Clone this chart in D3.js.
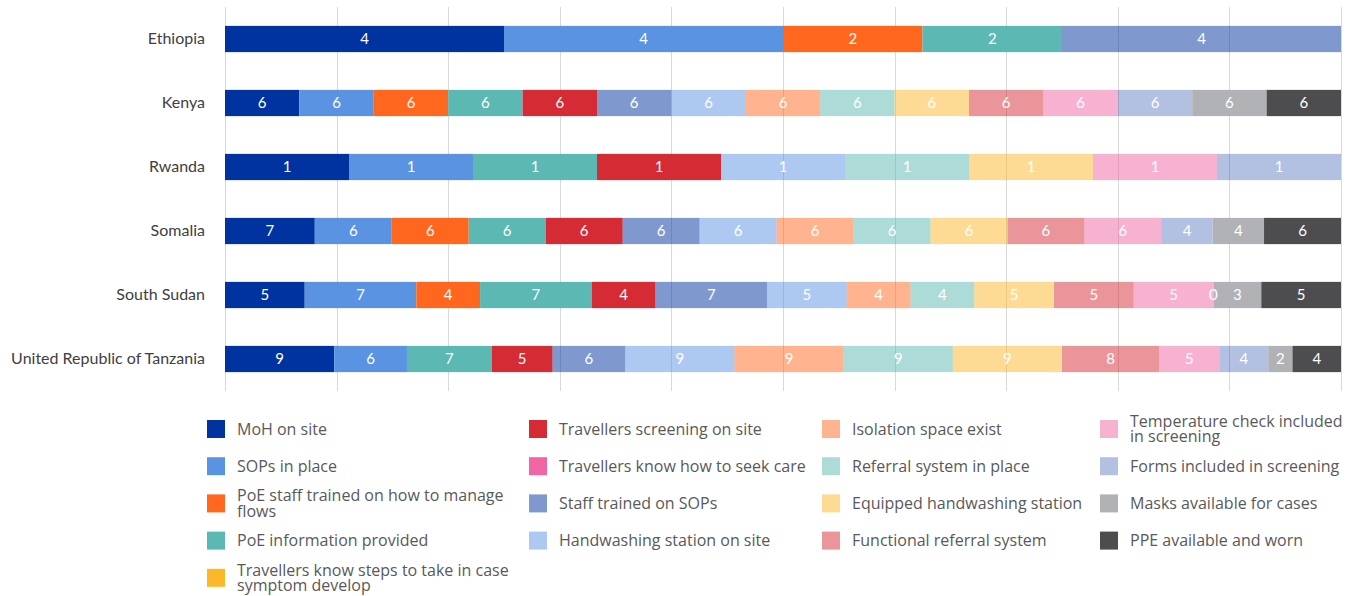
<!DOCTYPE html>
<html>
<head>
<meta charset="utf-8">
<script src="https://cdn.jsdelivr.net/npm/d3@7"></script>
<style>
  html, body { margin: 0; padding: 0; background: #ffffff; }
  svg { display: block; }
</style>
</head>
<body>
<svg id="chart" width="1356" height="596"></svg>
<script>
// Points of entry: measures observed per country (counts of sites)
const countries = ["Ethiopia", "Kenya", "Rwanda", "Somalia", "South Sudan", "United Republic of Tanzania"];

const seriesNames = [
  "MoH on site",
  "SOPs in place",
  "PoE staff trained on how to manage flows",
  "PoE information provided",
  "Travellers know steps to take in case symptom develop",
  "Travellers screening on site",
  "Travellers know how to seek care",
  "Staff trained on SOPs",
  "Handwashing station on site",
  "Isolation space exist",
  "Referral system in place",
  "Equipped handwashing station",
  "Functional referral system",
  "Temperature check included in screening",
  "Forms included in screening",
  "Masks available for cases",
  "PPE available and worn"
];

// one array per measure, values in the order of `countries` (null = not reported)
const mohOnSite            = [4, 6, 1, 7, 5, 9];
const sopsInPlace          = [4, 6, 1, 6, 7, 6];
const staffTrainedFlows    = [2, 6, null, 6, 4, null];
const poeInformation       = [2, 6, 1, 6, 7, 7];
const travellersKnowSteps  = [null, null, null, null, null, null];
const travellersScreening  = [null, 6, 1, 6, 4, 5];
const travellersSeekCare   = [null, null, null, null, null, null];
const staffTrainedSops     = [4, 6, null, 6, 7, 6];
const handwashingStation   = [null, 6, 1, 6, 5, 9];
const isolationSpace       = [null, 6, null, 6, 4, 9];
const referralSystem       = [null, 6, 1, 6, 4, 9];
const equippedHandwashing  = [null, 6, 1, 6, 5, 9];
const functionalReferral   = [null, 6, null, 6, 5, 8];
const temperatureCheck     = [null, 6, 1, 6, 5, 5];
const formsInScreening     = [null, 6, 1, 4, 0, 4];
const masksAvailable       = [null, 6, null, 4, 3, 2];
const ppeAvailable         = [null, 6, null, 6, 5, 4];

const seriesValues = [
  mohOnSite, sopsInPlace, staffTrainedFlows, poeInformation, travellersKnowSteps,
  travellersScreening, travellersSeekCare, staffTrainedSops, handwashingStation,
  isolationSpace, referralSystem, equippedHandwashing, functionalReferral,
  temperatureCheck, formsInScreening, masksAvailable, ppeAvailable
];

const xTicks = [0, 0.1, 0.2, 0.3, 0.4, 0.5, 0.6, 0.7, 0.8, 0.9, 1];

// fill colour and opacity per measure (lighter shades are translucent tints)
const seriesColors = [
  "#0033a0", "#5b93e3", "#ff671f", "#5cb8b2", "#fbb829",
  "#d52b35", "#ef66a3", "#0033a0", "#5b93e3",
  "#ff671f", "#5cb8b2", "#fbb829", "#d52b35",
  "#ef66a3", "#0033a0", "#b0b2b5", "#4d4d4f"
];
const seriesOpacity = [
  1, 1, 1, 1, 1,
  1, 1, 0.5, 0.5,
  0.5, 0.5, 0.5, 0.5,
  0.5, 0.3, 1, 1
];

// ---- layout ----
const plot = { left: 225, right: 1341, top: 7, bottom: 391 };
const svg = d3.select("#chart");

// build the table for the stack
const rows = countries.map((c, i) => {
  const r = { country: c };
  seriesNames.forEach((s, j) => { r[s] = seriesValues[j][i] == null ? 0 : seriesValues[j][i]; });
  return r;
});

const stack = d3.stack().keys(seriesNames).offset(d3.stackOffsetExpand);
const stacked = stack(rows);

const x = d3.scaleLinear().domain([0, 1]).range([plot.left, plot.right]);
const y = d3.scaleBand().domain(countries).range([plot.top, plot.bottom])
  .paddingInner(0.59).paddingOuter(0.295);

// vertical gridlines
svg.append("g").attr("class", "grid")
  .selectAll("line").data(xTicks).join("line")
  .attr("x1", d => Math.round(x(d)) + 0.5).attr("x2", d => Math.round(x(d)) + 0.5)
  .attr("y1", plot.top).attr("y2", plot.bottom)
  .attr("stroke", "#d9d9d9").attr("stroke-width", 1);

// category axis
const yAxis = svg.append("g")
  .attr("transform", `translate(${plot.left - 20},0)`)
  .call(d3.axisLeft(y).tickSize(0).tickPadding(0));
yAxis.select(".domain").remove();
yAxis.selectAll("text")
  .attr("font-family", "Lato, 'Open Sans', sans-serif")
  .attr("font-size", 16)
  .attr("fill", "#404040");

// bars
const layers = svg.append("g").attr("class", "bars")
  .selectAll("g").data(stacked).join("g")
  .attr("fill", (d, i) => seriesColors[i])
  .attr("fill-opacity", (d, i) => seriesOpacity[i]);

layers.selectAll("rect").data(d => d).join("rect")
  .attr("x", d => x(d[0]))
  .attr("width", d => Math.max(0, x(d[1]) - x(d[0])))
  .attr("y", d => y(d.data.country))
  .attr("height", y.bandwidth());

// value labels
const labelG = svg.append("g").attr("class", "labels");
stacked.forEach((layer, j) => {
  layer.forEach((d, i) => {
    const v = seriesValues[j][i];
    if (v == null) return;
    labelG.append("text")
      .attr("x", x((d[0] + d[1]) / 2))
      .attr("y", y(d.data.country) + y.bandwidth() / 2)
      .attr("dy", "0.36em")
      .attr("text-anchor", "middle")
      .attr("font-family", "Lato, 'Open Sans', sans-serif")
      .attr("font-size", 15)
      .attr("fill", "#ffffff")
      .text(v);
  });
});

// legend: four columns, filled column by column
const legendCols = [
  { x: 207, items: [0, 1, 2, 3, 4], wrap: 282 },
  { x: 529, items: [5, 6, 7, 8], wrap: 285 },
  { x: 822, items: [9, 10, 11, 12], wrap: 260 },
  { x: 1100, items: [13, 14, 15, 16], wrap: 222 }
];
const legendTop = 429, legendStep = 37.2, sw = 18;

const legend = svg.append("g").attr("class", "legend");
legendCols.forEach(col => {
  col.items.forEach((idx, r) => {
    const cy = legendTop + r * legendStep;
    const g = legend.append("g");
    g.append("rect")
      .attr("x", col.x).attr("y", cy - sw / 2)
      .attr("width", sw).attr("height", sw)
      .attr("fill", seriesColors[idx])
      .attr("fill-opacity", seriesOpacity[idx]);
    const t = g.append("text")
      .attr("x", col.x + 30)
      .attr("font-family", "'Open Sans', sans-serif")
      .attr("font-size", 16)
      .attr("fill", "#595959");
    // word-wrap into lines no wider than the column allows
    const words = seriesNames[idx].split(" ");
    const lines = [];
    let line = [];
    const probe = t.append("tspan");
    words.forEach(w => {
      line.push(w);
      probe.text(line.join(" "));
      if (probe.node().getComputedTextLength() > col.wrap && line.length > 1) {
        line.pop();
        lines.push(line.join(" "));
        line = [w];
      }
    });
    lines.push(line.join(" "));
    probe.remove();
    const lh = 15.5;
    const y0 = cy - (lines.length - 1) * lh / 2;
    lines.forEach((ln, k) => {
      t.append("tspan")
        .attr("x", col.x + 30)
        .attr("y", y0 + k * lh)
        .attr("dy", "0.35em")
        .text(ln);
    });
  });
});
</script>
</body>
</html>
